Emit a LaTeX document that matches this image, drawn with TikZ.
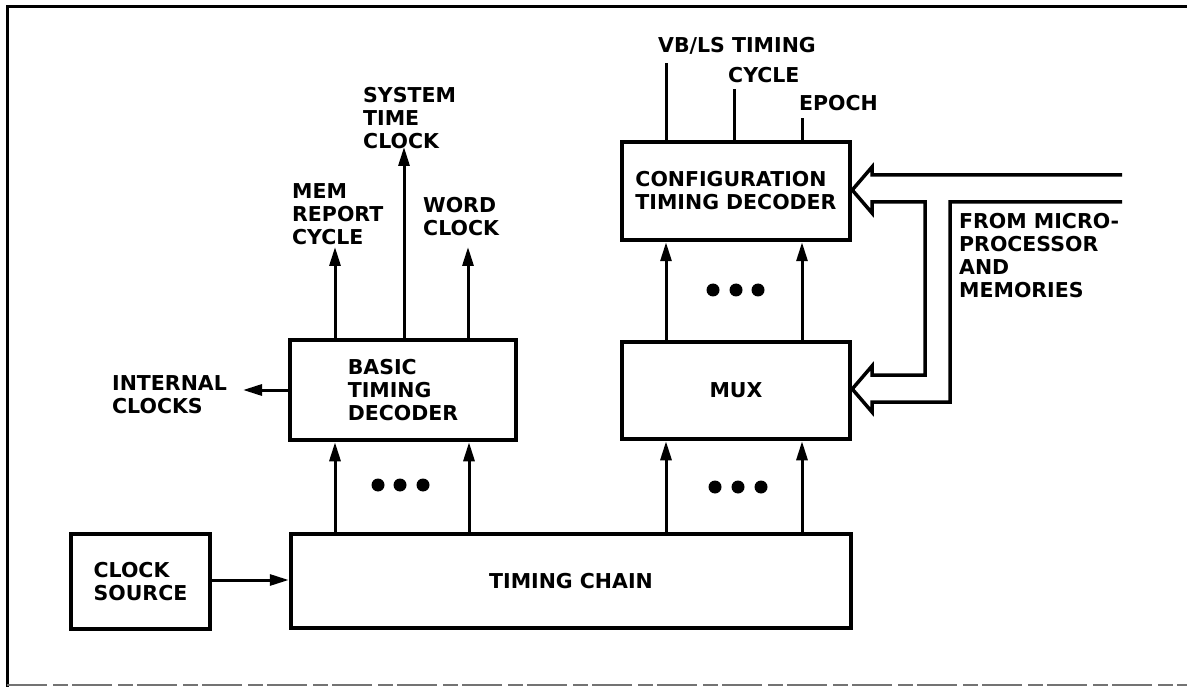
\documentclass[tikz,border=0pt]{standalone}
\usepackage{fontspec}
\setmainfont{DejaVu Sans}
\usetikzlibrary{arrows.meta}
\newcommand\lblfont{\fontsize{20.5}{23}\selectfont\bfseries}
\begin{document}
\begin{tikzpicture}[x=1pt,y=-1pt,
  box/.style={draw, line width=4.5pt, inner sep=0pt, font=\lblfont, align=left},
  lbl/.style={inner sep=0pt, font=\lblfont, align=left, anchor=north west},
  arr/.style={line width=3pt, -{Triangle[length=19pt,width=11pt]}},
  wire/.style={line width=3pt},
  bus/.style={line width=3.5pt, line join=miter},
  dot/.style={fill=black}]
\useasboundingbox (0,0) rectangle (1187,687);
\fill[white] (0,0) rectangle (1187,687);
% frame
\draw[line width=3pt] (7,687) -- (7,7) -- (1187,7);
\draw[line width=1.5pt, black!55, dash pattern=on 40pt off 6pt on 15pt off 4pt] (7,685) -- (1187,685);
% boxes
\node[box, minimum width=139pt, minimum height=95pt] (cs) at (140.5,581.5) {CLOCK\\SOURCE};
\node[box, minimum width=560pt, minimum height=94pt] (tc) at (571,581) {TIMING CHAIN};
\node[box, minimum width=226pt, minimum height=100pt] (basic) at (403,390) {BASIC\\TIMING\\DECODER};
\node[box, minimum width=228pt, minimum height=97pt] (mux) at (736,390.5) {MUX};
\node[box, minimum width=228pt, minimum height=98pt] (config) at (736,191) {CONFIGURATION\\TIMING DECODER};
% labels
\node[lbl] (sys) at (363,87) {SYSTEM\\TIME\\CLOCK};
\node[lbl] (mem) at (292,183) {MEM\\REPORT\\CYCLE};
\node[lbl] (word) at (423,197) {WORD\\CLOCK};
\node[lbl] (int) at (112,375) {INTERNAL\\CLOCKS};
\node[lbl] (vb) at (658,37) {VB/LS TIMING};
\node[lbl] (cyc) at (728,67) {CYCLE};
\node[lbl] (ep) at (799,95) {EPOCH};
\node[lbl] (from) at (959,213) {FROM MICRO-\\PROCESSOR\\AND\\MEMORIES};
% x positions
\coordinate (xa) at (335,0);
\coordinate (xb) at (469,0);
\coordinate (xs) at (404,0);
\coordinate (xc) at (666,0);
\coordinate (xd) at (802,0);
% free ends
\coordinate (memtip) at (335,247);
\coordinate (systip) at (404,147);
\coordinate (wordtip) at (468,247);
\coordinate (inttip) at (243,390);
\coordinate (vbend) at (666,63);
\coordinate (cycend) at (734,89);
\coordinate (epend) at (802,118);
\coordinate (busA) at (1122,175);
\coordinate (busB) at (1122,202);
% connectors
\draw[arr] (cs.east |- 0,580) -- (tc.west |- 0,580);
\draw[arr] (tc.north -| xa) -- (basic.south -| xa);
\draw[arr] (tc.north -| xb) -- (basic.south -| xb);
\draw[arr] (tc.north -| xc) -- (mux.south -| xc);
\draw[arr] (tc.north -| xd) -- (mux.south -| xd);
\draw[arr] (mux.north -| xc) -- (config.south -| xc);
\draw[arr] (mux.north -| xd) -- (config.south -| xd);
\draw[arr] (basic.north -| xa) -- (memtip);
\draw[arr] (basic.north -| xs) -- (systip);
\draw[arr] (basic.north -| wordtip) -- (wordtip);
\draw[arr] (basic.west) -- (inttip);
\draw[wire] (config.north -| vbend) -- (vbend);
\draw[wire] (config.north -| cycend) -- (cycend);
\draw[wire] (config.north -| epend) -- (epend);
% dots
\foreach \x in {378,400,423} \fill[dot] (\x,485) circle[radius=6.5pt];
\foreach \x in {715,738,761} \fill[dot] (\x,487) circle[radius=6.5pt];
\foreach \x in {713,736,758} \fill[dot] (\x,290) circle[radius=6.5pt];
% hollow bus arrows
\draw[bus] (busA) -- (872,175) -- (872,167) -- (config.east |- 0,190) -- (872,213) -- (872,202)
  -- (925,202) -- (925,375) -- (872,375) -- (872,366) -- (mux.east |- 0,389) -- (872,412)
  -- (872,402) -- (950,402) -- (950,202) -- (busB);
\end{tikzpicture}
\end{document}
